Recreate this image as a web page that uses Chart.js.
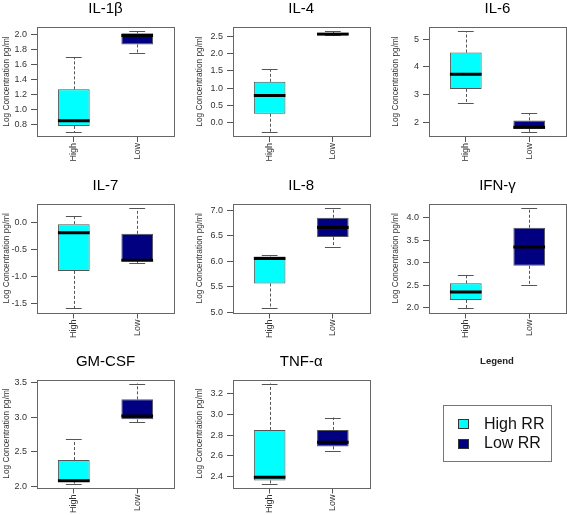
<!DOCTYPE html>
<html>
<head>
<meta charset="utf-8">
<title>Cytokine box plots</title>
<script src="https://cdn.jsdelivr.net/npm/chart.js@4.4.0/dist/chart.umd.min.js"></script>
<style>
  body { margin: 0; background: #fff; }
  #wrap { position: relative; width: 567px; height: 515px; overflow: hidden;
          font-family: 'Liberation Sans', Arial, sans-serif; color: #000; }
  #wrap canvas { position: absolute; left: 0; top: 0; }
  .legend-title { position: absolute; left: 447px; top: 355px; width: 100px; text-align: center;
                  font-weight: bold; font-size: 9.5px; line-height: 12px; color: #222; }
  .legend-box { position: absolute; left: 443px; top: 405px; width: 109px; height: 57px;
                border: 1px solid #777; box-sizing: border-box; }
  .legend-swatch { position: absolute; left: 458px; width: 11px; height: 10px;
                   border: 1px solid #333; box-sizing: border-box; }
  .legend-text { position: absolute; left: 484px; font-size: 16px; line-height: 20px; color: #111; }
</style>
</head>
<body>
<div id="wrap">
  <div class="legend-title">Legend</div>
  <div class="legend-box"></div>
  <div class="legend-swatch" style="top:419px; background:#00ffff;"></div>
  <div class="legend-text" style="top:414px;">High RR</div>
  <div class="legend-swatch" style="top:439px; background:#000080;"></div>
  <div class="legend-text" style="top:433px;">Low RR</div>
</div>
<script>
// ---- data, one entry per panel, [High, Low] ----
const panels = ['IL-1β', 'IL-4', 'IL-6', 'IL-7', 'IL-8', 'IFN-γ', 'GM-CSF', 'TNF-α'];
const groups = ['High', 'Low'];

const whiskerMin = [[0.70, 1.75], [-0.28, 2.53], [2.70, 1.64], [-1.60, -0.75],
                    [5.07, 6.27], [1.98, 2.50], [2.04, 2.93], [2.33, 2.65]];
const q1         = [[0.78, 1.87], [0.25, 2.55], [3.20, 1.75], [-0.90, -0.72],
                    [5.56, 6.47], [2.17, 2.93], [2.06, 2.97], [2.36, 2.69]];
const median     = [[0.85, 1.99], [0.78, 2.57], [3.73, 1.81], [-0.19, -0.70],
                    [6.05, 6.66], [2.35, 3.35], [2.08, 3.02], [2.39, 2.73]];
const q3         = [[1.27, 2.02], [1.18, 2.60], [4.52, 2.06], [-0.03, -0.21],
                    [6.09, 6.85], [2.54, 3.78], [2.38, 3.26], [2.85, 2.85]];
const whiskerMax = [[1.70, 2.05], [1.55, 2.66], [5.30, 2.31], [0.13, 0.27],
                    [6.12, 7.04], [2.72, 4.22], [2.68, 3.49], [3.30, 2.97]];

const yTickLabels = [
  ['0.8', '1.0', '1.2', '1.4', '1.6', '1.8', '2.0'],
  ['0.0', '0.5', '1.0', '1.5', '2.0', '2.5'],
  ['2', '3', '4', '5'],
  ['-1.5', '-1.0', '-0.5', '0.0'],
  ['5.0', '5.5', '6.0', '6.5', '7.0'],
  ['2.0', '2.5', '3.0', '3.5', '4.0'],
  ['2.0', '2.5', '3.0', '3.5'],
  ['2.4', '2.6', '2.8', '3.0', '3.2']
];

// ---- layout of the 3x3 grid (page pixels) ----
const PAGE_W = 567, PAGE_H = 515;
const colLeft = [37, 233, 429];
const colRight = [174, 369.5, 566];
const rowTop = [27, 204, 379.5];
const rowBottom = [136, 312.5, 487.5];
const yAxisWidth = [35.5, 38, 38.3];
const X_AXIS_H = 30;

const HIGH_COL = '#00ffff';
const LOW_COL = '#000080';
const FRAME = '#666';

Chart.defaults.font.family = "'Liberation Sans', Arial, sans-serif";

// whiskers, caps, median and frame, placed with the chart's own scales
const boxWhiskers = {
  id: 'boxWhiskers',
  afterDatasetsDraw(chart, args, opts) {
    const p = opts.panel;
    const y = chart.scales.y;
    const ctx = chart.ctx;
    const meta = chart.getDatasetMeta(0);
    ctx.save();
    meta.data.forEach((bar, i) => {
      const x = bar.x;
      const half = bar.width / 2;
      const cap = half / 2;
      const pMin = y.getPixelForValue(whiskerMin[p][i]);
      const pQ1 = y.getPixelForValue(q1[p][i]);
      const pQ3 = y.getPixelForValue(q3[p][i]);
      const pMax = y.getPixelForValue(whiskerMax[p][i]);
      const pMed = y.getPixelForValue(median[p][i]);

      ctx.strokeStyle = '#555';
      ctx.lineWidth = 1;
      ctx.setLineDash([3, 2]);
      ctx.beginPath();
      ctx.moveTo(Math.round(x) + 0.5, pQ3);
      ctx.lineTo(Math.round(x) + 0.5, pMax);
      ctx.moveTo(Math.round(x) + 0.5, pQ1);
      ctx.lineTo(Math.round(x) + 0.5, pMin);
      ctx.stroke();

      ctx.setLineDash([]);
      ctx.beginPath();
      ctx.moveTo(x - cap, Math.round(pMax) + 0.5);
      ctx.lineTo(x + cap, Math.round(pMax) + 0.5);
      ctx.moveTo(x - cap, Math.round(pMin) + 0.5);
      ctx.lineTo(x + cap, Math.round(pMin) + 0.5);
      ctx.stroke();

      ctx.strokeStyle = '#000';
      ctx.lineWidth = 3;
      ctx.beginPath();
      ctx.moveTo(x - half, pMed);
      ctx.lineTo(x + half, pMed);
      ctx.stroke();
    });
    const a = chart.chartArea;
    ctx.strokeStyle = FRAME;
    ctx.lineWidth = 1;
    ctx.strokeRect(Math.round(a.left) + 0.5, Math.round(a.top) + 0.5,
                   Math.round(a.right - a.left), Math.round(a.bottom - a.top));
    ctx.restore();
  }
};

const wrap = document.getElementById('wrap');

panels.forEach((name, p) => {
  const col = p % 3, row = Math.floor(p / 3);
  const canvas = document.createElement('canvas');
  canvas.width = PAGE_W;
  canvas.height = PAGE_H;
  wrap.insertBefore(canvas, wrap.firstChild);

  // R-style axis range: whisker extent plus 4% on each side
  const lo = Math.min(...whiskerMin[p]);
  const hi = Math.max(...whiskerMax[p]);
  const pad = (hi - lo) * 0.04;
  const tickVals = yTickLabels[p].map(Number);

  new Chart(canvas, {
    type: 'bar',
    data: {
      datasets: [{
        data: groups.map((g, i) => ({ x: i + 1, y: [q1[p][i], q3[p][i]] })),
        backgroundColor: [HIGH_COL, LOW_COL],
        borderColor: '#555',
        borderWidth: 1,
        borderSkipped: false,
        categoryPercentage: 1,
        barPercentage: 0.5
      }]
    },
    options: {
      responsive: false,
      animation: false,
      devicePixelRatio: 1,
      layout: {
        padding: {
          left: colLeft[col] - yAxisWidth[col],
          right: PAGE_W - colRight[col],
          top: rowTop[row] - 27,
          bottom: PAGE_H - rowBottom[row] - X_AXIS_H
        }
      },
      plugins: {
        legend: { display: false },
        tooltip: { enabled: false },
        title: {
          display: true,
          text: name,
          fullSize: false,
          color: '#000',
          font: { size: 15, weight: 'normal' },
          padding: { top: 0, bottom: 9 }
        },
        boxWhiskers: { panel: p }
      },
      scales: {
        x: {
          type: 'linear',
          min: 0.42,
          max: 2.58,
          offset: false,
          afterBuildTicks: s => { s.ticks = groups.map((g, i) => ({ value: i + 1 })); },
          afterFit: s => { s.height = X_AXIS_H; },
          ticks: {
            autoSkip: false,
            minRotation: 90,
            maxRotation: 90,
            padding: 1,
            color: '#333',
            font: { size: 9 },
            callback: v => groups[v - 1]
          },
          grid: { drawOnChartArea: false, drawTicks: true, tickLength: 6, color: '#555', offset: false },
          border: { display: false }
        },
        y: {
          type: 'linear',
          min: lo - pad,
          max: hi + pad,
          bounds: 'data',
          beginAtZero: false,
          afterBuildTicks: s => { s.ticks = tickVals.map(v => ({ value: v })); },
          afterFit: s => { s.width = yAxisWidth[col]; },
          ticks: {
            padding: 4,
            color: '#333',
            font: { size: 9 },
            callback: (v, i) => yTickLabels[p][i]
          },
          grid: { drawOnChartArea: false, drawTicks: true, tickLength: 6, color: '#555' },
          border: { display: false },
          title: {
            display: true,
            text: 'Log Concentration pg/ml',
            color: '#333',
            font: { size: 8.3 },
            padding: { top: 0, bottom: 0 }
          }
        }
      }
    },
    plugins: [boxWhiskers]
  });
});
</script>
</body>
</html>
